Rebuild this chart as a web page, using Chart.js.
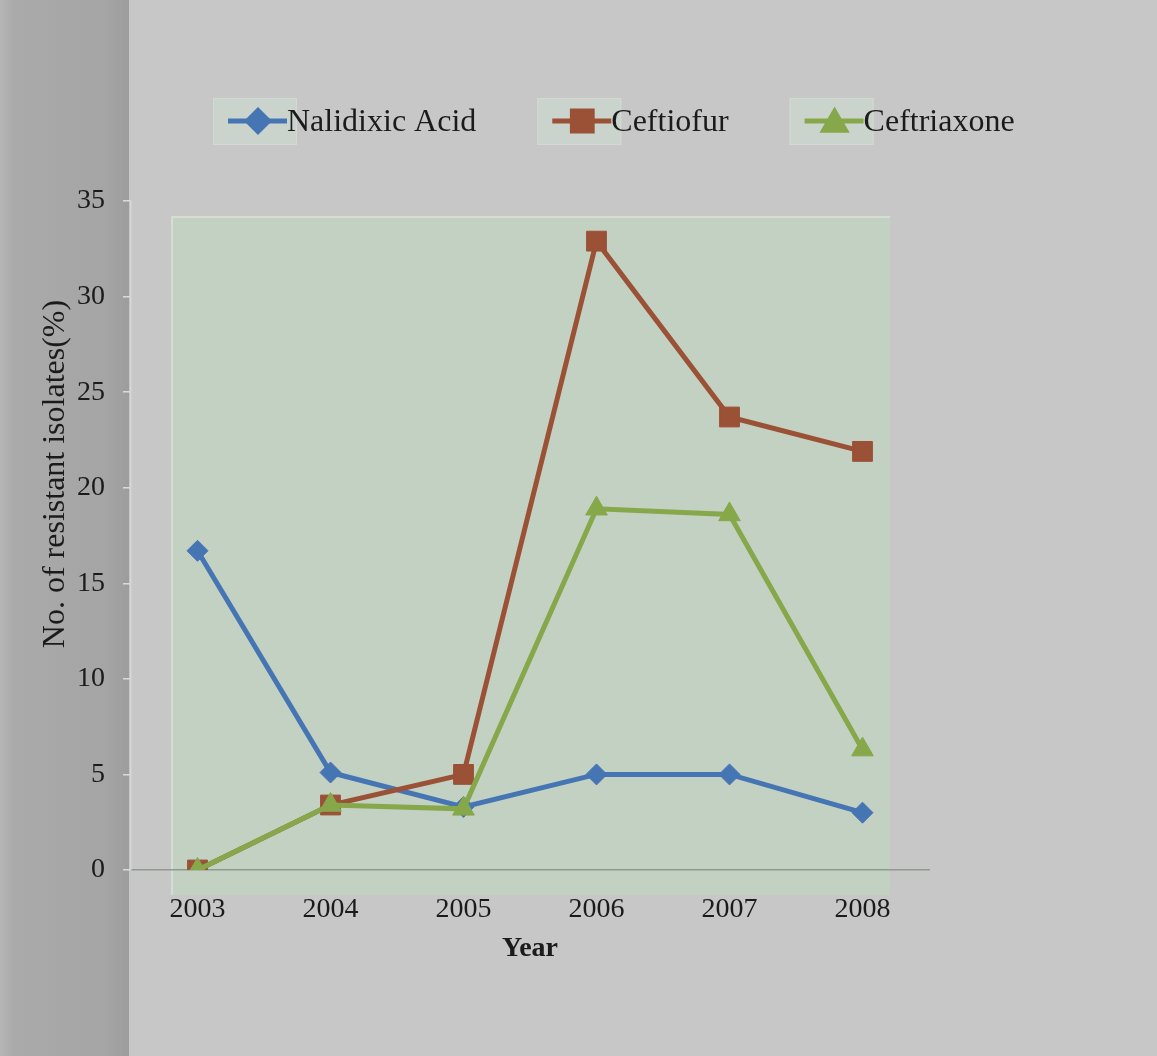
<!DOCTYPE html>
<html>
<head>
<meta charset="utf-8">
<script src="https://cdn.jsdelivr.net/npm/chart.js@4.4.1/dist/chart.umd.min.js"></script>
<style>
  html, body { margin: 0; padding: 0; background: #c7c7c7; overflow: hidden; }
  canvas { display: block; }
</style>
</head>
<body>
<canvas id="chart" width="1157" height="1056"></canvas>
<script>
// Resistance trend per year (% of isolates)
const years = ['2003', '2004', '2005', '2006', '2007', '2008'];
const nalidixicAcid = [16.7, 5.1, 3.3, 5.0, 5.0, 3.0];
const ceftiofur = [0, 3.4, 5.0, 32.9, 23.7, 21.9];
const ceftriaxone = [0, 3.4, 3.2, 18.9, 18.6, 6.3];
const yTickValues = [0, 5, 10, 15, 20, 25, 30, 35];
const seriesNames = ['Nalidixic Acid', 'Ceftiofur', 'Ceftriaxone'];
const yAxisTitle = 'No. of resistant isolates(%)';
const xAxisTitle = 'Year';

const SERIF = "'Liberation Serif', 'Times New Roman', Times, serif";
const INK = '#1b1b1b';

// Grey page, darker left margin and the tinted plot panel
const backdrop = {
  id: 'backdrop',
  beforeDraw(chart) {
    const { ctx, chartArea: ca, width, height } = chart;
    ctx.save();
    ctx.fillStyle = '#c7c7c7';
    ctx.fillRect(0, 0, width, height);

    const g = ctx.createLinearGradient(0, 0, ca.left, 0);
    g.addColorStop(0, '#b6b6b6');
    g.addColorStop(0.1, '#aaaaaa');
    g.addColorStop(0.8, '#a5a5a5');
    g.addColorStop(1, '#9c9c9c');
    ctx.fillStyle = g;
    ctx.fillRect(0, 0, ca.left - 2, height);

    const px = ca.left + 41, py = ca.top + 16;
    const pw = (ca.right - 39) - px, ph = (ca.bottom + 25) - py;
    ctx.fillStyle = '#c3d1c3';
    ctx.fillRect(px, py, pw, ph);
    ctx.strokeStyle = '#dbe2db';
    ctx.lineWidth = 1.5;
    ctx.beginPath();
    ctx.moveTo(px, py + ph);
    ctx.lineTo(px, py);
    ctx.lineTo(px + pw, py);
    ctx.stroke();
    ctx.restore();
  }
};

// Legend row: line sample with marker, then the series name
const lineLegend = {
  id: 'lineLegend',
  afterDraw(chart) {
    const { ctx } = chart;
    const cy = 121;
    let x = 213;
    ctx.save();
    ctx.font = '32px ' + SERIF;
    ctx.textBaseline = 'middle';
    chart.data.datasets.forEach(ds => {
      ctx.fillStyle = '#cbd4cc';
      ctx.fillRect(x, cy - 23, 84, 47);
      ctx.strokeStyle = '#d3dad3';
      ctx.lineWidth = 1;
      ctx.strokeRect(x + 0.5, cy - 22.5, 83, 46);

      ctx.strokeStyle = ds.borderColor;
      ctx.lineWidth = ds.borderWidth;
      ctx.beginPath();
      ctx.moveTo(x + 15, cy);
      ctx.lineTo(x + 74, cy);
      ctx.stroke();

      ctx.fillStyle = ds.pointBackgroundColor;
      ctx.strokeStyle = ds.pointBorderColor;
      Chart.helpers.drawPoint(ctx, {
        pointStyle: ds.pointStyle,
        radius: ds.pointRadius,
        rotation: 0,
        borderWidth: 1
      }, x + 45, ds.pointStyle === 'triangle' ? cy + 3 : cy);

      ctx.fillStyle = INK;
      ctx.fillText(ds.label, x + 74, cy + 2);
      x += 74 + ctx.measureText(ds.label).width + 61;
    });
    ctx.restore();
  }
};

// Axis titles
const axisTitles = {
  id: 'axisTitles',
  afterDraw(chart) {
    const { ctx, chartArea: ca } = chart;
    ctx.save();
    ctx.fillStyle = INK;
    ctx.textAlign = 'center';
    ctx.textBaseline = 'middle';

    ctx.font = '32px ' + SERIF;
    ctx.translate(56, 474);
    ctx.rotate(-Math.PI / 2);
    ctx.fillText(yAxisTitle, 0, 0);
    ctx.setTransform(1, 0, 0, 1, 0, 0);

    ctx.font = 'bold 28px ' + SERIF;
    ctx.fillText(xAxisTitle, (ca.left + ca.right) / 2, 949);
    ctx.restore();
  }
};

function series(label, data, color, pointStyle, radius, order) {
  return {
    label, data, order,
    borderColor: color,
    backgroundColor: color,
    borderWidth: 5,
    pointStyle,
    pointRadius: radius,
    pointHoverRadius: radius,
    pointBackgroundColor: color,
    pointBorderColor: color,
    pointBorderWidth: 1,
    tension: 0,
    fill: false
  };
}

new Chart(document.getElementById('chart'), {
  type: 'line',
  data: {
    labels: years,
    datasets: [
      series(seriesNames[0], nalidixicAcid, '#4675b4', 'rectRot', 10.5, 2),
      series(seriesNames[1], ceftiofur, '#9b5136', 'rect', 14, 1),
      series(seriesNames[2], ceftriaxone, '#86a84a', 'triangle', 12.5, 0)
    ]
  },
  options: {
    responsive: false,
    animation: false,
    events: [],
    layout: { padding: { top: 201, left: 0, right: 228, bottom: 126 } },
    plugins: {
      legend: { display: false },
      title: { display: false },
      tooltip: { enabled: false }
    },
    scales: {
      x: {
        type: 'category',
        offset: true,
        grid: { display: true, drawOnChartArea: false, drawTicks: false },
        border: { display: true, color: '#8f9a8f', width: 1.5 },
        ticks: {
          color: INK,
          font: { family: SERIF, size: 28 },
          padding: 23,
          maxRotation: 0,
          autoSkip: false
        },
        afterFit(scale) { scale.height = 60; }
      },
      y: {
        min: 0,
        max: 35,
        grid: { drawOnChartArea: false, drawTicks: true, tickLength: 8, color: '#dadada', lineWidth: 1.5 },
        border: { display: true, color: '#d6d6d6', width: 1.5 },
        ticks: {
          color: INK,
          font: { family: SERIF, size: 28 },
          padding: 18
        },
        afterBuildTicks(scale) { scale.ticks = yTickValues.map(v => ({ value: v })); },
        afterFit(scale) { scale.width = 131; }
      }
    }
  },
  plugins: [backdrop, lineLegend, axisTitles]
});
</script>
</body>
</html>
